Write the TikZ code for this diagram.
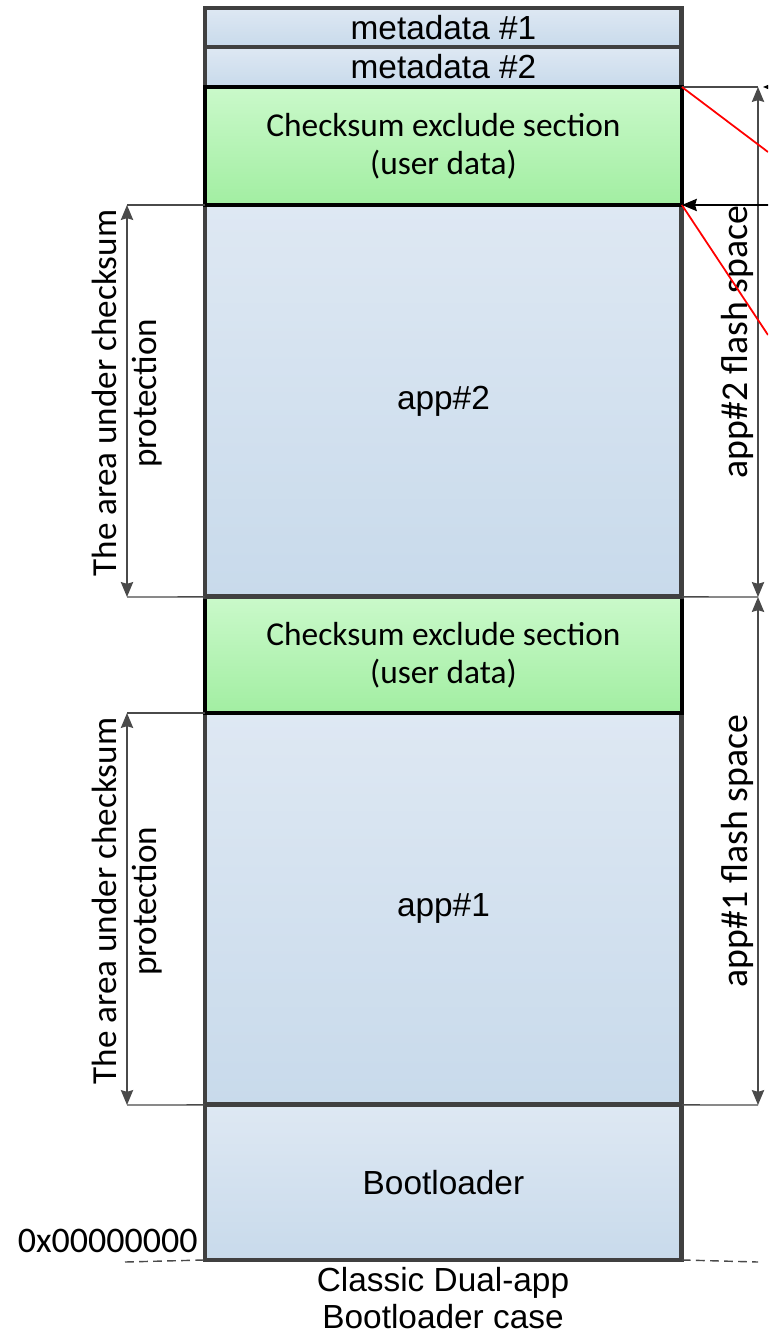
\documentclass[tikz,border=0pt]{standalone}
\usepackage{fontspec}
\setmainfont{Liberation Sans}
\newfontfamily\calibri{Carlito}
\usetikzlibrary{arrows.meta}

\definecolor{boxblue1}{HTML}{DEE8F3}
\definecolor{boxblue2}{HTML}{C8DAEB}
\definecolor{boxgreen1}{HTML}{CAF9CA}
\definecolor{boxgreen2}{HTML}{A2EEA2}
\definecolor{edgegray}{HTML}{404040}
\definecolor{dimgray}{HTML}{4A4A4A}

\begin{document}
\begin{tikzpicture}[x=0.02cm, y=-0.02cm,
  >={Stealth[length=8.5pt,width=7pt,inset=1pt]},
  membox/.style={draw=edgegray, line width=2.8pt, top color=boxblue1, bottom color=boxblue2,
    minimum width=9.54cm, inner sep=0pt, outer sep=0pt, anchor=north west, align=center,
    font=\fontsize{19}{22}\selectfont},
  exclbox/.style={membox, draw=black, line width=2.3pt, top color=boxgreen1, bottom color=boxgreen2,
    font=\calibri\fontsize{19}{21.5}\selectfont},
  dimline/.style={dimgray, line width=0.8pt},
  dimarrow/.style={dimline, <->},
  sidelabel/.style={text=black, font=\calibri\fontsize{20}{23}\selectfont, align=center, rotate=90}]
\clip (0,0) rectangle (768,1334);

% memory map, drawn bottom part first so the edges overlap right
\node[membox, minimum height=7.84cm] (app1) at (205,713) {app\#1};
\node[exclbox, minimum height=2.32cm] (excl1) at (205,597) {Checksum exclude section\\(user data)};
\node[membox, minimum height=0.78cm] (meta1) at (205,8) {metadata \#1};
\node[membox, minimum height=0.8cm] (meta2) at (205,47) {metadata \#2};
\node[membox, minimum height=7.84cm] (app2) at (205,205) {app\#2};
\node[exclbox, minimum height=2.36cm] (excl2) at (205,87) {Checksum exclude section\\(user data)};
\node[membox, minimum height=3.1cm] (boot) at (205,1105) {Bootloader};

% left: checksum protected areas
\coordinate (la2t) at (127,205);
\coordinate (la2b) at (127,597);
\coordinate (la1t) at (127,713);
\coordinate (la1b) at (127,1105);
\draw[dimline] (app2.north west) -- (la2t);
\draw[dimline] (app2.south west) -- (la2b);
\draw[dimarrow] (la2t) -- node[sidelabel, pos=0.48] (prot2) {The area under checksum\\protection} (la2b);
\draw[dimline] (app1.north west) -- (la1t);
\draw[dimline] (app1.south west) -- (la1b);
\draw[dimarrow] (la1t) -- node[sidelabel, pos=0.48] (prot1) {The area under checksum\\protection} (la1b);

% right: flash spaces
\coordinate (ra2t) at (758,87);
\coordinate (ramid) at (758,597);
\coordinate (ra1b) at (758,1105);
\draw[dimline] (excl2.north east) -- (ra2t);
\draw[dimline] (app2.south east) -- (ramid);
\draw[dimline] (app1.south east) -- (ra1b);
\draw[dimarrow] (ra2t) -- node[sidelabel, anchor=south, inner sep=2pt, font=\calibri\fontsize{21.5}{24}\selectfont] (space2) {app\#2 flash space} (ramid);
\draw[dimarrow] (ramid) -- node[sidelabel, anchor=south, inner sep=2pt, font=\calibri\fontsize{21.5}{24}\selectfont] (space1) {app\#1 flash space} (ra1b);

% pointers coming in from the right
\coordinate (redA) at (768,152);
\coordinate (redB) at (768,335);
\coordinate (arrE) at (768,205);
\coordinate (arrT) at (800,87);
\coordinate (tipT) at (763,87);
\draw[red, line width=1pt] (excl2.north east) -- (redA);
\draw[red, line width=1pt] (excl2.south east) -- (redB);
\draw[black, line width=0.9pt, ->] (arrE) -- (excl2.south east);
\draw[black, line width=0.9pt, ->] (arrT) -- (tipT);

% base address
\coordinate (zl) at (125,1262);
\coordinate (zr) at (758,1262);
\draw[dimline, dash pattern=on 5pt off 3pt] (zl) -- (boot.south west);
\draw[dimline, dash pattern=on 5pt off 3pt] (boot.south east) -- (zr);
\node[font=\calibri\fontsize{20.5}{22}\selectfont, anchor=base east, inner sep=0pt] (addr) at (198,1252) {0x00000000};
\node[font=\fontsize{19}{21}\selectfont, align=center] (caption) at (443,1298) {Classic Dual-app\\Bootloader case};
\end{tikzpicture}
\end{document}
